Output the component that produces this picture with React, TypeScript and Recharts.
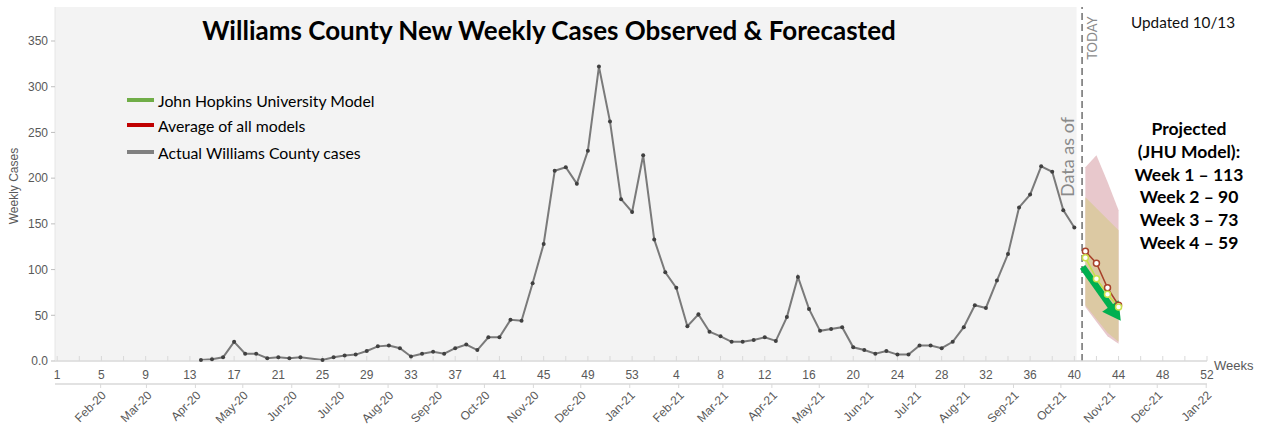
import React from 'react';
import { ComposedChart, Line, Area, XAxis, YAxis, ReferenceArea, ReferenceLine } from 'recharts';

// ---- Data ----
// Observed weekly cases, 2020 weeks 14..53 (null = no marker)
const weeks2020 = [14,15,16,17,18,19,20,21,22,23,24,25,26,27,28,29,30,31,32,33,34,35,36,37,38,39,40,41,42,43,44,45,46,47,48,49,50,51,52,53];
const cases2020 = [1,2,4,21,8,8,3,4,3,4,null,1,4,6,7,11,16,17,14,5,8,10,8,14,18,12,26,26,45,44,85,128,208,212,194,230,322,262,177,163];
// Observed weekly cases, 2021 weeks 1..40
const weeks2021 = [1,2,3,4,5,6,7,8,9,10,11,12,13,14,15,16,17,18,19,20,21,22,23,24,25,26,27,28,29,30,31,32,33,34,35,36,37,38,39,40];
const cases2021 = [225,133,97,80,38,51,32,27,21,21,23,26,22,48,92,57,33,35,37,15,12,8,11,7,7,17,17,14,21,37,61,58,88,117,168,182,213,207,165,146];

// Forecast, 2021 weeks 41..44
const forecastWeeks = [41,42,43,44];
const jhuModel = [113,90,73,59];
const avgModels = [120,107,80,61];
const pinkLow = [59,43,27,19];
const pinkHigh = [212,225,196,165];
const tanLow = [61,46,31,21];
const tanHigh = [179,167,155,143];

// Axis ticks (every 2 weeks; labels every 4)
const weekTicks = Array.from({ length: 53 }, (_, i) => i * 2);
const yTicks = [0,50,100,150,200,250,300,350];
const monthLabels = ['Feb-20','Mar-20','Apr-20','May-20','Jun-20','Jul-20','Aug-20','Sep-20','Oct-20','Nov-20','Dec-20','Jan-21','Feb-21','Mar-21','Apr-21','May-21','Jun-21','Jul-21','Aug-21','Sep-21','Oct-21','Nov-21','Dec-21','Jan-22'];
const monthTicks = monthLabels.map((_, i) => (Date.UTC(2020, 1 + i, 1) - Date.UTC(2020, 0, 1)) / (7 * 864e5) - 0.5);

const legendItems = [
  { label: 'John Hopkins University Model', color: '#70AD47' },
  { label: 'Average of all models', color: '#C00000' },
  { label: 'Actual Williams County cases', color: '#808080' },
];
const projectedLines = ['Projected', '(JHU Model):', 'Week 1 \u2013 113', 'Week 2 \u2013 90', 'Week 3 \u2013 73', 'Week 4 \u2013 59'];

const todayIdx = 92.7;
const observedEndIdx = 92.2;
const arrowStart = { x: 92.75, y: 103 };
const arrowEnd = { x: 96.2, y: 44 };

// ---- Rows built from arrays ----
const actualRows = [
  ...weeks2020.map((w, i) => ({ idx: w - 1, v: cases2020[i] })),
  ...weeks2021.map((w, i) => ({ idx: 52 + w, v: cases2021[i] })),
];
const forecastRows = forecastWeeks.map((w, i) => ({
  idx: 52 + w,
  jhu: jhuModel[i],
  avg: avgModels[i],
  pink: [pinkLow[i], pinkHigh[i]],
  tan: [tanLow[i], tanHigh[i]],
}));

const weekFmt = (v: number) => (v % 4 !== 0 ? '' : String(v <= 52 ? v + 1 : v - 52));

const Arrow = (props: any) => {
  const { x1, y1, x2, y2 } = props;
  const dx = x2 - x1, dy = y2 - y1;
  const len = Math.hypot(dx, dy) || 1;
  const ux = dx / len, uy = dy / len;
  const head = 18, half = 10;
  const bx = x2 - ux * head, by = y2 - uy * head;
  const px = -uy, py = ux;
  return (
    <g>
      <line x1={x1} y1={y1} x2={bx + ux * 2} y2={by + uy * 2} stroke="#00B050" strokeWidth={6.5} />
      <polygon points={`${x2},${y2} ${bx + px * half},${by + py * half} ${bx - px * half},${by - py * half}`} fill="#00B050" />
    </g>
  );
};

const axisFont = { fontSize: 12, fill: '#595959', fontFamily: '"Liberation Sans", Arial, sans-serif' };
const calibri = 'Lato, "Open Sans", sans-serif';

const Rotated = ({ text, cx, cy, w, h, style }: any) => (
  <div style={{ position: 'absolute', left: cx - w / 2, top: cy - h / 2, width: w, height: h, lineHeight: h + 'px', textAlign: 'center', transform: 'rotate(-90deg)', whiteSpace: 'nowrap', ...style }}>{text}</div>
);

export default function App() {
  return (
    <div style={{ position: 'absolute', left: 0, top: 0, width: 1265, height: 427, background: '#fff', overflow: 'hidden' }}>
      <ComposedChart width={1265} height={427} margin={{ top: 7, right: 58, bottom: 0, left: 0 }}>
        <XAxis type="number" dataKey="idx" domain={[-0.2, 104]} ticks={weekTicks} interval={0} tickFormatter={weekFmt}
          allowDataOverflow height={23} tickLine={{ stroke: '#d9d9d9' }} tickSize={-5} tickMargin={14}
          axisLine={{ stroke: '#d9d9d9', strokeWidth: 1.5 }} tick={axisFont} />
        <XAxis xAxisId="m" type="number" dataKey="idx" domain={[-0.2, 104]} ticks={monthTicks} interval={0}
          tickFormatter={(_v: number, i: number) => monthLabels[i]} allowDataOverflow height={43}
          tickSize={4} tickMargin={2} angle={-45} textAnchor="end"
          axisLine={{ stroke: '#d9d9d9', strokeWidth: 1.5 }} tickLine={{ stroke: '#d9d9d9' }} tick={axisFont} />
        <YAxis type="number" domain={[0, 387.2]} ticks={yTicks} interval={0} width={55}
          tickFormatter={(v: number) => (v === 0 ? '0.0' : String(v))} tickSize={4} tickMargin={3}
          axisLine={{ stroke: '#e6e6e6' }} tickLine={{ stroke: '#bfbfbf' }} tick={axisFont} />
        <ReferenceArea x1={-0.2} x2={observedEndIdx} y1={0.6} y2={387.2} fill="#F3F3F3" fillOpacity={1} stroke="none" />
        <Line xAxisId="m" data={actualRows} dataKey="v" stroke="none" dot={false} activeDot={false} legendType="none" isAnimationActive={false} />
        <Area data={forecastRows} dataKey="pink" type="linear" stroke="none" fill="#E8C8CC" fillOpacity={1} isAnimationActive={false} dot={false} activeDot={false} />
        <Area data={forecastRows} dataKey="tan" type="linear" stroke="none" fill="#DCC9A3" fillOpacity={1} isAnimationActive={false} dot={false} activeDot={false} />
        <Line data={actualRows} dataKey="v" type="linear" stroke="#7a7a7a" strokeWidth={2} connectNulls
          dot={{ r: 2, fill: '#404040', stroke: '#404040', strokeWidth: 0 }} isAnimationActive={false} />
        <Line data={forecastRows} dataKey="avg" type="linear" stroke="#A8412A" strokeWidth={1.5}
          dot={{ r: 3, fill: '#fff', stroke: '#A8412A', strokeWidth: 1.5 }} isAnimationActive={false} />
        <Line data={forecastRows} dataKey="jhu" type="linear" stroke="#C8E04A" strokeWidth={1.5}
          dot={{ r: 3, fill: '#fff', stroke: '#C8E04A', strokeWidth: 1.5 }} isAnimationActive={false} />
        <ReferenceLine x={todayIdx} stroke="#6e6e6e" strokeWidth={1.5} strokeDasharray="7 4" />
        <ReferenceLine segment={[arrowStart, arrowEnd]} shape={Arrow} />
      </ComposedChart>

      <div style={{ position: 'absolute', left: 149, top: 15, width: 800, textAlign: 'center', fontFamily: calibri, fontWeight: 700, fontSize: 26, lineHeight: '30px', color: '#000', whiteSpace: 'nowrap' }}>
        Williams County New Weekly Cases Observed &amp; Forecasted
      </div>

      {legendItems.map((it, i) => (
        <div key={it.label} style={{ position: 'absolute', left: 127, top: [100, 125, 152][i] - 10, height: 20, display: 'flex', alignItems: 'center', fontFamily: calibri, fontSize: 15.8, color: '#000', whiteSpace: 'nowrap' }}>
          <span style={{ display: 'inline-block', width: 27, height: 4, background: it.color, marginRight: 4 }} />
          {it.label}
        </div>
      ))}

      <div style={{ position: 'absolute', left: 1131, top: 12, fontFamily: calibri, fontSize: 15.3, lineHeight: '20px', color: '#111', whiteSpace: 'nowrap' }}>Updated 10/13</div>

      <div style={{ position: 'absolute', left: 1119, top: 118, width: 140, textAlign: 'center', fontFamily: calibri, fontWeight: 700, fontSize: 17.5, lineHeight: '22.8px', color: '#000' }}>
        {projectedLines.map((l) => (<div key={l}>{l}</div>))}
      </div>

      <Rotated text="TODAY" cx={1092} cy={38} w={60} h={16} style={{ fontFamily: calibri, fontSize: 13, color: '#8a8a8a' }} />
      <Rotated text="Data as of" cx={1067} cy={157} w={100} h={20} style={{ fontFamily: calibri, fontSize: 18, color: '#8a8a8a' }} />
      <Rotated text="Weekly Cases" cx={14} cy={186} w={100} h={14} style={{ fontFamily: '"Liberation Sans", Arial, sans-serif', fontSize: 12, color: '#595959' }} />

      <div style={{ position: 'absolute', left: 1214, top: 358, fontFamily: '"Liberation Sans", Arial, sans-serif', fontSize: 13, lineHeight: '16px', color: '#595959' }}>Weeks</div>
    </div>
  );
}
